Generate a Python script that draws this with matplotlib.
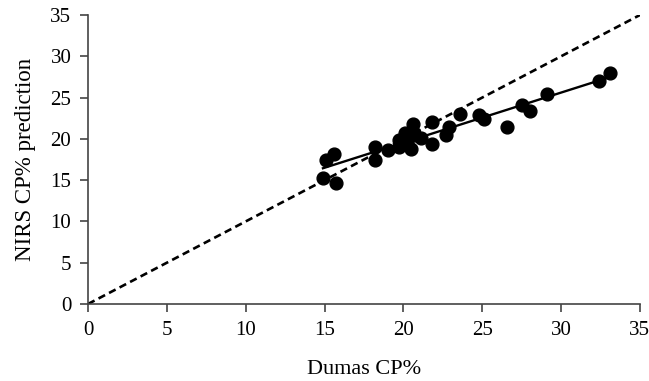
import numpy as np
import matplotlib
matplotlib.use("Agg")
import matplotlib.pyplot as plt

# Dumas CP% (x) vs NIRS predicted CP% (y)
dumas = [14.9, 15.7, 15.1, 15.6, 18.2, 18.2, 19.0, 19.7, 19.7, 20.1, 20.2,
         20.5, 20.6, 20.7, 20.7, 21.1, 21.8, 21.8, 22.7, 22.9, 23.6, 24.8,
         25.1, 26.6, 27.5, 28.0, 29.1, 32.4, 33.1]
nirs = [15.2, 14.7, 17.4, 18.2, 19.0, 17.5, 18.6, 19.0, 19.9, 20.7, 19.5,
        18.8, 21.8, 20.5, 20.7, 20.1, 22.1, 19.4, 20.5, 21.4, 23.0, 22.9,
        22.4, 21.4, 24.1, 23.4, 25.4, 27.0, 28.0]

ticks = [0, 5, 10, 15, 20, 25, 30, 35]

plt.rcParams["font.family"] = ["Liberation Serif", "DejaVu Serif"]
plt.rcParams["font.size"] = 15

fig = plt.figure(figsize=(6.49, 3.81), dpi=100)
ax = fig.add_axes([0.1356, 0.2021, 0.8504, 0.7585])

# 1:1 line
ax.plot([0, 35], [0, 35], color="black", linestyle=(0, (2.8, 1.7)), linewidth=1.9)

# fitted regression line
slope, intercept = np.polyfit(dumas, nirs, 1)
xs = np.array([min(dumas), max(dumas)])
ax.plot(xs, slope * xs + intercept, color="black", linewidth=1.7)

ax.scatter(dumas, nirs, s=85, color="black", zorder=3)

ax.set_xlim(0, 35)
ax.set_ylim(0, 35)
ax.set_xticks(ticks)
ax.set_yticks(ticks)
ax.spines["top"].set_visible(False)
ax.spines["right"].set_visible(False)
for s in ("left", "bottom"):
    ax.spines[s].set_color("#444444")
    ax.spines[s].set_linewidth(1.2)
ax.tick_params(direction="out", length=6, width=1.2, color="#444444", pad=6)

ax.set_xlabel("Dumas CP%", fontsize=16, labelpad=15)
ax.set_ylabel("NIRS CP% prediction", fontsize=16.5, labelpad=10)

fig.savefig("out.png", dpi=100)
